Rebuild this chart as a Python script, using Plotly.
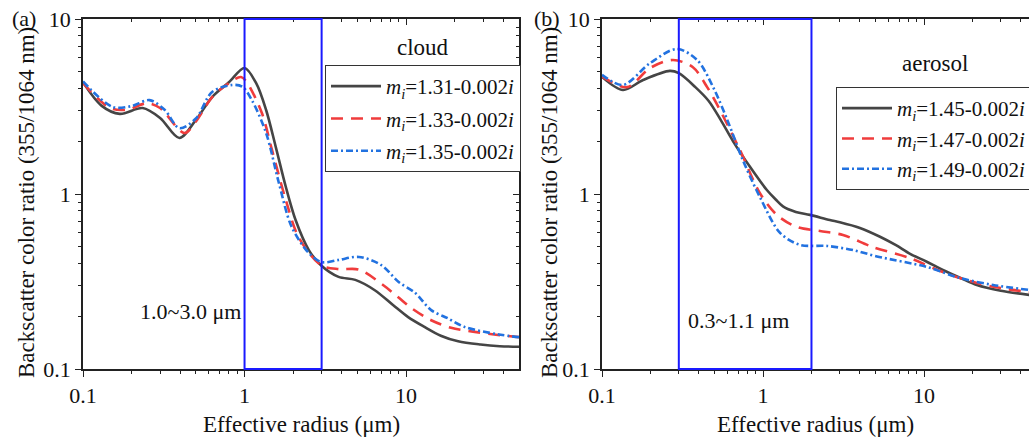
import math
import plotly.graph_objects as go

W, H = 1029, 439

# ---------------- data ----------------
# Panel (a): cloud
a_x_131 = [0.1, 0.13, 0.169, 0.234, 0.3, 0.395, 0.5, 0.63, 0.8, 1.0, 1.18, 1.36, 1.56, 1.8, 2.07, 2.5, 2.96,
           3.82, 4.85, 6.4, 8.3, 10.3, 13, 16.4, 21, 28.9, 38, 50]
a_y_131 = [4.35, 3.2, 2.87, 3.1, 2.72, 2.09, 2.65, 3.58, 4.35, 5.25, 4.3, 3.02, 1.86, 1.1, 0.71, 0.478, 0.393,
           0.336, 0.323, 0.282, 0.232, 0.198, 0.174, 0.155, 0.144, 0.138, 0.135, 0.134]

a_x_133 = [0.1, 0.147, 0.187, 0.248, 0.3, 0.424, 0.5, 0.63, 0.8, 0.95, 1.03, 1.28, 1.48, 1.8, 2.16, 2.96, 3.82,
           5.1, 7.2, 8.9, 11, 14.3, 19, 26.6, 36, 50]
a_y_133 = [4.3, 3.1, 3.03, 3.3, 3.1, 2.23, 2.6, 3.58, 4.3, 4.66, 4.37, 2.9, 1.78, 0.925, 0.568, 0.393, 0.372,
           0.37, 0.302, 0.258, 0.22, 0.19, 0.172, 0.163, 0.157, 0.152]

a_x_135 = [0.1, 0.153, 0.2, 0.258, 0.32, 0.395, 0.5, 0.63, 0.84, 0.97, 1.11, 1.36, 1.63, 1.96, 2.5, 3.0, 3.82,
           5.1, 7.0, 9.0, 11.4, 14.3, 18.1, 23, 36.8, 50]
a_y_135 = [4.4, 3.14, 3.18, 3.44, 3.03, 2.38, 2.7, 3.83, 4.2, 4.1, 3.44, 2.23, 1.16, 0.647, 0.46, 0.408, 0.42,
           0.437, 0.393, 0.314, 0.272, 0.217, 0.195, 0.174, 0.158, 0.152]

# Panel (b): aerosol
b_x_145 = [0.1, 0.135, 0.18, 0.264, 0.3, 0.38, 0.46, 0.546, 0.652, 0.83, 1.06, 1.2, 1.33, 1.6, 1.96, 2.6, 3.0,
           4.0, 5.33, 6.7, 8.2, 10.4, 13.1, 17, 21.3, 30, 45]
b_y_145 = [4.67, 3.93, 4.48, 5.05, 4.9, 4.08, 3.4, 2.65, 2.0, 1.43, 1.05, 0.93, 0.85, 0.79, 0.76, 0.71, 0.69,
           0.64, 0.57, 0.51, 0.455, 0.41, 0.368, 0.33, 0.302, 0.28, 0.265]

b_x_147 = [0.1, 0.143, 0.199, 0.276, 0.367, 0.45, 0.518, 0.72, 0.957, 1.22, 1.63, 2.26, 3.14, 4.8, 8.2, 13.1,
           21.3, 30, 45]
b_y_147 = [4.7, 4.08, 5.25, 5.83, 5.3, 4.08, 3.25, 1.78, 1.01, 0.759, 0.647, 0.615, 0.583, 0.498, 0.43, 0.358,
           0.31, 0.29, 0.275]

b_x_149 = [0.1, 0.135, 0.199, 0.292, 0.39, 0.49, 0.6, 0.75, 0.957, 1.28, 1.7, 2.5, 3.63, 5.1, 10.4, 16.7, 26.9,
           45]
b_y_149 = [4.8, 4.2, 5.6, 6.74, 5.83, 4.08, 2.65, 1.56, 0.96, 0.598, 0.512, 0.505, 0.478, 0.44, 0.383, 0.331,
           0.302, 0.283]

names_a = ["1.31", "1.33", "1.35"]
names_b = ["1.45", "1.47", "1.49"]

box_a = [1.0, 3.0]
box_b = [0.3, 2.0]

x_ticks = [0.1, 1, 10]
x_tick_text = ["0.1", "1", "10"]
y_ticks = [0.1, 1, 10]
y_tick_text = ["0.1", "1", "10"]
x_minor = [0.2, 0.3, 0.4, 0.5, 0.6, 0.7, 0.8, 0.9, 2, 3, 4, 5, 6, 7, 8, 9, 20, 30, 40]
y_minor = [0.2, 0.3, 0.4, 0.5, 0.6, 0.7, 0.8, 0.9, 2, 3, 4, 5, 6, 7, 8, 9]

# ---------------- styling ----------------
FONT = "Liberation Serif"
C_BLACK = "#454545"
C_RED = "#f03c3c"
C_BLUE = "#2272e0"
LW = 2.6
styles = [
    dict(color=C_BLACK, width=LW, dash="solid"),
    dict(color=C_RED, width=LW, dash="12px,8px"),
    dict(color=C_BLUE, width=LW, dash="7px,3px,2px,3px"),
]


def label(v):
    return "<i>m</i><sub><i>i</i></sub>=" + v + "-0.002<i>i</i>"


fig = go.Figure()

series_a = [(a_x_131, a_y_131), (a_x_133, a_y_133), (a_x_135, a_y_135)]
series_b = [(b_x_145, b_y_145), (b_x_147, b_y_147), (b_x_149, b_y_149)]

for i, ((xs, ys), nm) in enumerate(zip(series_a, names_a)):
    fig.add_trace(go.Scatter(x=xs, y=ys, mode="lines", line=dict(**styles[i], shape="spline", smoothing=0.9),
                             name=label(nm), xaxis="x", yaxis="y", legend="legend",
                             legendgroup="a%d" % i))
for i, ((xs, ys), nm) in enumerate(zip(series_b, names_b)):
    fig.add_trace(go.Scatter(x=xs, y=ys, mode="lines", line=dict(**styles[i], shape="spline", smoothing=0.9),
                             name=label(nm), xaxis="x2", yaxis="y2", legend="legend2",
                             legendgroup="b%d" % i))

# empty traces to activate the mirror axes (top / right, inward ticks)
fig.add_trace(go.Scatter(x=[], y=[], xaxis="x3", yaxis="y3", showlegend=False, hoverinfo="skip"))
fig.add_trace(go.Scatter(x=[], y=[], xaxis="x4", yaxis="y2", showlegend=False, hoverinfo="skip"))

# geometry in pixels
A_L, A_R = 83, 519
B_L, B_R = 602, 1029
P_T, P_B = 19, 369
dom_a = [A_L / W, A_R / W]
dom_b = [B_L / W, B_R / W]
dom_y = [1 - P_B / H, 1 - P_T / H]

range_a = [-1, math.log10(50)]
range_b = [-1, -1 + (B_R - B_L) / 161.0]
range_y = [-1, 1]

tickfont = dict(family=FONT, size=22, color="#111")
AX_LINE = dict(showline=True, linecolor="#222", linewidth=1.5, showgrid=False, zeroline=False, automargin=False)


def bottom_axis(dom, rng, anchor):
    return dict(type="log", domain=dom, range=rng, anchor=anchor, tickmode="array", tickvals=x_ticks,
                ticktext=x_tick_text, ticks="outside", ticklen=6, tickwidth=1.3, tickcolor="#222",
                minor=dict(tickmode="array", tickvals=x_minor, ticks="outside", ticklen=3.5, tickwidth=1.2,
                           tickcolor="#222"),
                tickfont=tickfont, **AX_LINE)


def left_axis(dom_x_anchor):
    return dict(type="log", domain=dom_y, range=range_y, anchor=dom_x_anchor, tickmode="array", tickvals=y_ticks,
                ticktext=y_tick_text, ticks="outside", ticklen=6, tickwidth=1.3, tickcolor="#222",
                minor=dict(tickmode="array", tickvals=y_minor, ticks="outside", ticklen=3.5, tickwidth=1.2,
                           tickcolor="#222"),
                tickfont=tickfont, **AX_LINE)


def top_axis(overlay, rng, anchor):
    return dict(type="log", overlaying=overlay, side="top", range=rng, anchor=anchor, tickmode="array",
                tickvals=x_ticks, showticklabels=False, ticks="inside", ticklen=6, tickwidth=1.3, tickcolor="#222",
                minor=dict(tickmode="array", tickvals=x_minor, ticks="inside", ticklen=3.5, tickwidth=1.2,
                           tickcolor="#222"),
                **AX_LINE)


fig.update_layout(
    width=W, height=H,
    margin=dict(l=0, r=0, t=0, b=0, pad=0, autoexpand=False),
    paper_bgcolor="white", plot_bgcolor="white",
    font=dict(family=FONT, size=21, color="#111"),
    xaxis=bottom_axis(dom_a, range_a, "y"),
    yaxis=left_axis("x"),
    xaxis2=bottom_axis(dom_b, range_b, "y2"),
    yaxis2=left_axis("x2"),
    xaxis3=top_axis("x", range_a, "y"),
    yaxis3=dict(type="log", overlaying="y", side="right", range=range_y, anchor="x", tickmode="array",
                tickvals=y_ticks, showticklabels=False, ticks="inside", ticklen=6, tickwidth=1.3, tickcolor="#222",
                minor=dict(tickmode="array", tickvals=y_minor, ticks="inside", ticklen=3.5, tickwidth=1.2,
                           tickcolor="#222"),
                **AX_LINE),
    xaxis4=top_axis("x2", range_b, "y2"),
    showlegend=True,
    legend=dict(x=325 / W, y=1 - 65 / H, xanchor="left", yanchor="top", bgcolor="white",
                bordercolor="#333", borderwidth=1, font=dict(family=FONT, size=21, color="#111"),
                itemwidth=50, tracegroupgap=2),
    legend2=dict(x=836 / W, y=1 - 87 / H, xanchor="left", yanchor="top", bgcolor="white",
                 bordercolor="#333", borderwidth=1, font=dict(family=FONT, size=21, color="#111"),
                 itemwidth=50, tracegroupgap=0),
)

# blue range boxes
for bx, xr, yr in ((box_a, "x", "y domain"), (box_b, "x2", "y2 domain")):
    fig.add_shape(type="rect", xref=xr, yref=yr, x0=bx[0], x1=bx[1], y0=0, y1=1,
                  line=dict(color="#1a1aff", width=2), layer="above")


def add_text(text, x, y, size=21, angle=0, xanchor="center"):
    fig.add_annotation(text=text, x=x / W, y=1 - y / H, xref="paper", yref="paper", showarrow=False,
                       font=dict(family=FONT, size=size, color="#111"), textangle=angle, xanchor=xanchor,
                       yanchor="middle")


add_text("(a)", 24, 19, size=22)
add_text("(b)", 547, 19, size=22)
add_text("cloud", 423, 47, size=23)
add_text("aerosol", 935, 64, size=23)
add_text("1.0~3.0 μm", 190, 311, size=22)
add_text("0.3~1.1 μm", 738, 320, size=22)
add_text("Effective radius (μm)", 301, 424, size=23)
add_text("Effective radius (μm)", 815, 424, size=23)
add_text("Backscatter color ratio (355/1064 nm)", 26, 203, size=23, angle=-90)
add_text("Backscatter color ratio (355/1064 nm)", 549, 203, size=23, angle=-90)

fig.write_html("out.html")
